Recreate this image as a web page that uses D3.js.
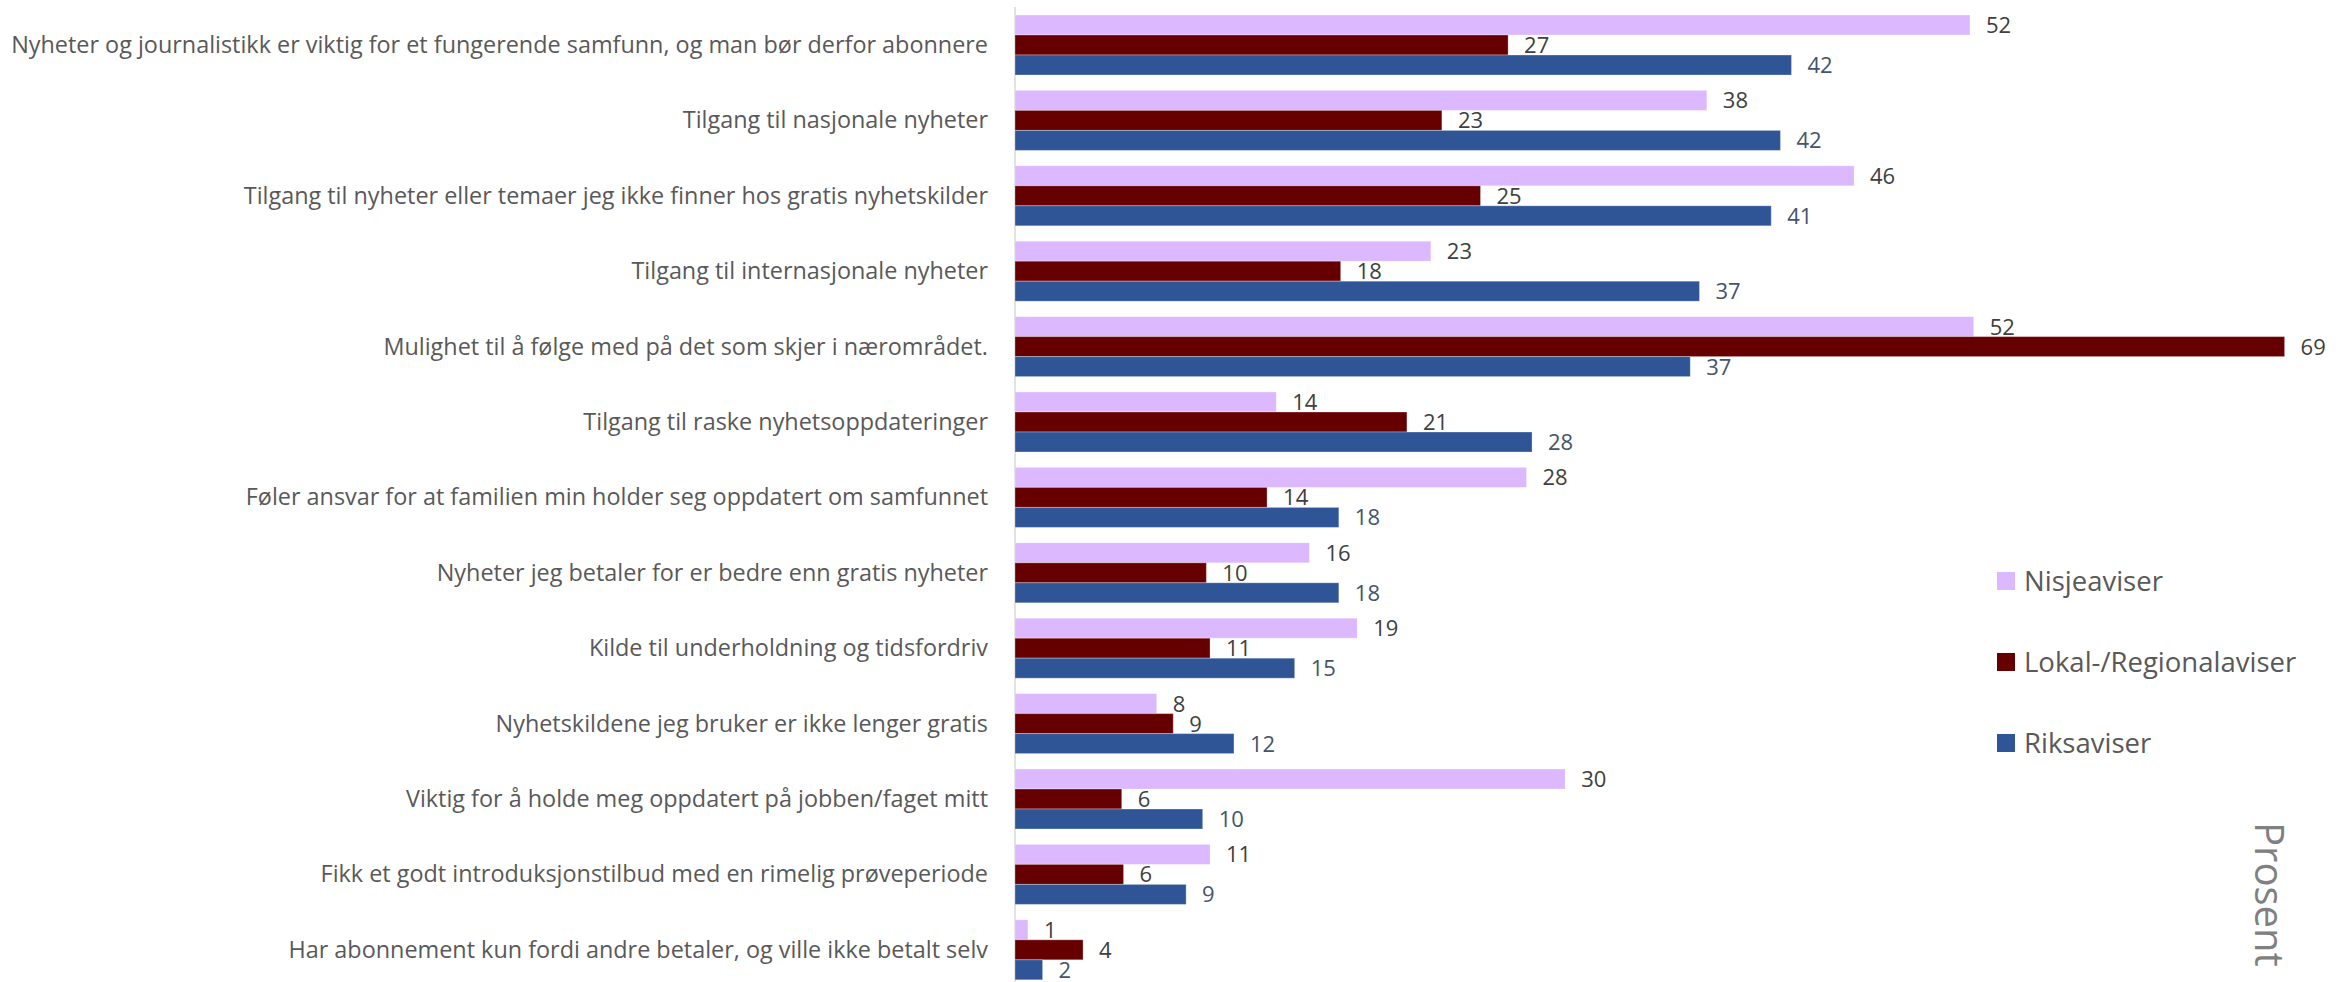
<!DOCTYPE html>
<html>
<head>
<meta charset="utf-8">
<script src="https://cdn.jsdelivr.net/npm/d3@7"></script>
<style>
  html, body { margin: 0; padding: 0; background: #fff; }
  svg { display: block; font-family: "Open Sans", sans-serif; }
  .cat-label { fill: #595959; font-size: 23.4px; }
  .val-label { font-size: 22px; }
  .leg-label { fill: #595959; font-size: 27.5px; }
  .unit-label { fill: #808080; font-size: 40px; }
</style>
</head>
<body>
<svg id="chart" width="2351" height="982"></svg>
<script>
// Grunner til å abonnere, prosent per avistype
const categories = [
  "Nyheter og journalistikk er viktig for et fungerende samfunn, og man bør derfor abonnere",
  "Tilgang til nasjonale nyheter",
  "Tilgang til nyheter eller temaer jeg ikke finner hos gratis nyhetskilder",
  "Tilgang til internasjonale nyheter",
  "Mulighet til å følge med på det som skjer i nærområdet.",
  "Tilgang til raske nyhetsoppdateringer",
  "Føler ansvar for at familien min holder seg oppdatert om samfunnet",
  "Nyheter jeg betaler for er bedre enn gratis nyheter",
  "Kilde til underholdning og tidsfordriv",
  "Nyhetskildene jeg bruker er ikke lenger gratis",
  "Viktig for å holde meg oppdatert på jobben/faget mitt",
  "Fikk et godt introduksjonstilbud med en rimelig prøveperiode",
  "Har abonnement kun fordi andre betaler, og ville ikke betalt selv"
];

const seriesNames = ["Nisjeaviser", "Lokal-/Regionalaviser", "Riksaviser"];

const nisjeValues = [51.9, 37.6, 45.6, 22.6, 52.1, 14.2, 27.8, 16.0, 18.6, 7.7, 29.9, 10.6, 0.7];
const lokalValues = [26.8, 23.2, 25.3, 17.7, 69.0, 21.3, 13.7, 10.4, 10.6, 8.6, 5.8, 5.9, 3.7];
const riksValues  = [42.2, 41.6, 41.1, 37.2, 36.7, 28.1, 17.6, 17.6, 15.2, 11.9, 10.2, 9.3, 1.5];

const unitLabel = "Prosent";

const BAR_COLORS = ["#dcb8ff", "#660000", "#2f5597"];
const VALUE_COLORS = ["#404040", "#404040", "#44546a"];

const X0 = 1015;
const PX_PER_UNIT = 18.4;
const X_MAX = 70;

let svg, xScale, yGroup, ySeries;

function initChart() {
  svg = d3.select("#chart");

  const rows = categories.map((c, i) => ({
    category: c,
    values: [nisjeValues[i], lokalValues[i], riksValues[i]]
  }));

  xScale = d3.scaleLinear()
    .domain([0, X_MAX])
    .range([X0, X0 + X_MAX * PX_PER_UNIT]);

  yGroup = d3.scaleBand()
    .domain(categories)
    .range([7.3, 7.3 + 75.4 * categories.length])
    .paddingInner(0.2042)
    .paddingOuter(0.1021);

  ySeries = d3.scaleBand()
    .domain(d3.range(seriesNames.length))
    .range([0, yGroup.bandwidth()]);

  // Aksen (kun linje, ingen ticks)
  svg.append("line")
    .attr("x1", xScale(0)).attr("x2", xScale(0))
    .attr("y1", 7).attr("y2", 982)
    .attr("stroke", "#d9d9d9")
    .attr("stroke-width", 1.5);

  const groups = svg.selectAll(".group")
    .data(rows)
    .enter().append("g")
    .attr("class", "group")
    .attr("transform", d => `translate(0,${yGroup(d.category)})`);

  groups.selectAll("rect")
    .data(d => d.values)
    .enter().append("rect")
    .attr("x", xScale(0))
    .attr("y", (v, j) => ySeries(j))
    .attr("width", v => xScale(v) - xScale(0))
    .attr("height", ySeries.bandwidth())
    .attr("fill", (v, j) => BAR_COLORS[j])
    .attr("stroke", "#ffffff")
    .attr("stroke-opacity", 0.3)
    .attr("stroke-width", 1);

  groups.selectAll(".val-label")
    .data(d => d.values)
    .enter().append("text")
    .attr("class", "val-label")
    .attr("x", v => xScale(v) + 16)
    .attr("y", (v, j) => ySeries(j) + ySeries.bandwidth() / 2 + 8)
    .attr("fill", (v, j) => VALUE_COLORS[j])
    .text(v => Math.round(v));

  // Kategorietiketter
  svg.selectAll(".cat-label")
    .data(categories)
    .enter().append("text")
    .attr("class", "cat-label")
    .attr("text-anchor", "end")
    .attr("x", 988)
    .attr("y", d => yGroup(d) + yGroup.bandwidth() / 2 + 8)
    .text(d => d);

  renderLegend();

  svg.append("text")
    .attr("class", "unit-label")
    .attr("transform", "translate(2255,822) rotate(90)")
    .text(unitLabel);
}

function renderLegend() {
  const legendY = d3.scalePoint()
    .domain(seriesNames)
    .range([581, 743]);

  const items = svg.selectAll(".leg-item")
    .data(seriesNames)
    .enter().append("g")
    .attr("class", "leg-item")
    .attr("transform", d => `translate(1997,${legendY(d)})`);

  items.append("rect")
    .attr("x", 0).attr("y", -9)
    .attr("width", 18).attr("height", 18)
    .attr("fill", (d, i) => BAR_COLORS[i]);

  items.append("text")
    .attr("class", "leg-label")
    .attr("x", 27)
    .attr("y", 10)
    .text(d => d);
}

initChart();
</script>
</body>
</html>
